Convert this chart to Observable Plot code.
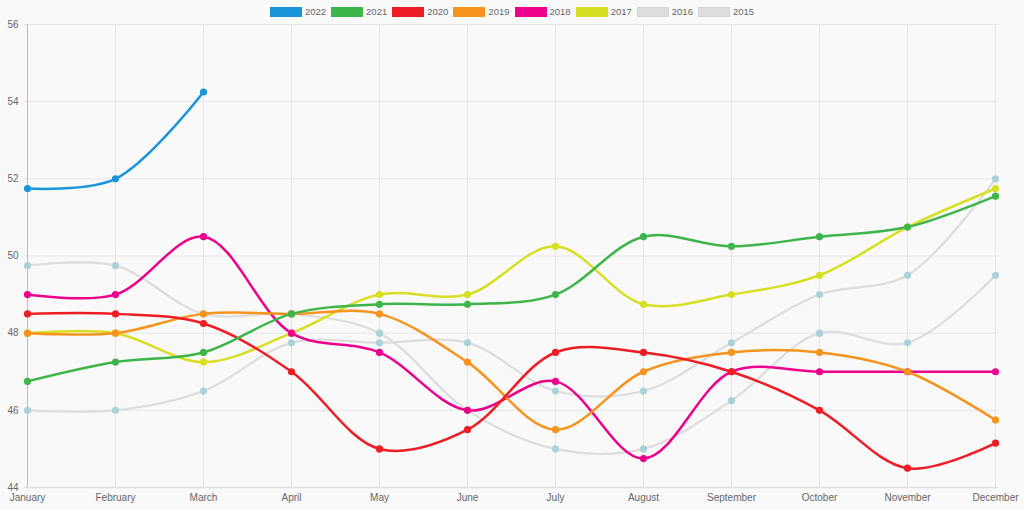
<!DOCTYPE html>
<html>
<head>
<meta charset="utf-8">
<script src="https://cdn.jsdelivr.net/npm/d3@7"></script>
<script src="https://cdn.jsdelivr.net/npm/@observablehq/plot@0.6"></script>
<style>
  html, body { margin: 0; padding: 0; background: #f9f9f9; }
  body { width: 1024px; height: 510px; overflow: hidden; font-family: "Liberation Sans", Arial, sans-serif; }
  #legend { height: 16px; display: flex; justify-content: center; align-items: center; padding-top: 7px; box-sizing: border-box; }
  .item { display: flex; align-items: center; margin: 0 2.5px; font-size: 9.5px; color: #666; }
  .box { width: 32px; height: 10px; margin-right: 3px; box-sizing: border-box; border: 1px solid; }
  #chart svg { display: block; }
</style>
</head>
<body>
<div id="legend"></div>
<div id="chart"></div>
<script>
const months = ["January","February","March","April","May","June","July","August","September","October","November","December"];
const seriesNames = ["2022","2021","2020","2019","2018","2017","2016","2015"];
const seriesColors = ["#1a96d8","#3db54a","#ee1c24","#f7941d","#ec008c","#d7df23","#dddddd","#dddddd"];
const pointColors = ["#1a96d8","#3db54a","#ee1c24","#f7941d","#ec008c","#d7df23","#a9d3d9","#a9d3d9"];
const v2022 = [51.75, 52, 54.25];
const v2021 = [46.75, 47.25, 47.5, 48.5, 48.75, 48.75, 49, 50.5, 50.25, 50.5, 50.75, 51.55];
const v2020 = [48.5, 48.5, 48.25, 47, 45, 45.5, 47.5, 47.5, 47, 46, 44.5, 45.15];
const v2019 = [48, 48, 48.5, 48.5, 48.5, 47.25, 45.5, 47, 47.5, 47.5, 47, 45.75];
const v2018 = [49, 49, 50.5, 48, 47.5, 46, 46.75, 44.75, 47, 47, 47, 47];
const v2017 = [48, 48, 47.25, 48, 49, 49, 50.25, 48.75, 49, 49.5, 50.75, 51.75];
const v2016 = [49.75, 49.75, 48.5, 48.5, 48, 46, 45, 45, 46.25, 48, 47.75, 49.5];
const v2015 = [46, 46, 46.5, 47.75, 47.75, 47.75, 46.5, 46.5, 47.75, 49, 49.5, 52];
const yTicks = [44, 46, 48, 50, 52, 54, 56];

const allValues = [v2022, v2021, v2020, v2019, v2018, v2017, v2016, v2015];

// legend
const legend = document.getElementById("legend");
seriesNames.forEach((name, i) => {
  const it = document.createElement("div");
  it.className = "item";
  const b = document.createElement("div");
  b.className = "box";
  b.style.background = seriesColors[i];
  b.style.borderColor = i >= 6 ? "#d4d4d4" : seriesColors[i];
  const t = document.createElement("span");
  t.textContent = name;
  it.appendChild(b); it.appendChild(t);
  legend.appendChild(it);
});

const rows = [];
allValues.forEach((vals, si) => {
  vals.forEach((v, mi) => rows.push({series: seriesNames[si], si, month: months[mi], value: v}));
});

const marks = [
  Plot.gridX(months, {stroke: "#e6e6e6", strokeOpacity: 1}),
  Plot.gridY(yTicks.slice(1), {stroke: "#e6e6e6", strokeOpacity: 1}),
  Plot.ruleY([44], {stroke: "#e0e0e0", strokeWidth: 1.5}),
  Plot.ruleX([months[0]], {stroke: "#bdbdbd"}),
];
// draw in reverse so 2022 is on top
for (let si = seriesNames.length - 1; si >= 0; si--) {
  const d = rows.filter(r => r.si === si);
  const gray = si >= 6;
  marks.push(Plot.line(d, {x: "month", y: "value", stroke: seriesColors[si], strokeWidth: gray ? 2.2 : 2.5, curve: "catmull-rom"}));
}
for (let si = seriesNames.length - 1; si >= 0; si--) {
  const d = rows.filter(r => r.si === si);
  marks.push(Plot.dot(d, {x: "month", y: "value", fill: pointColors[si], r: 3.6}));
}

const chart = Plot.plot({
  width: 1024,
  height: 494,
  marginTop: 8,
  marginBottom: 23,
  marginLeft: 24,
  marginRight: 26,
  style: {background: "#f9f9f9", fontFamily: "Liberation Sans, Arial, sans-serif", fontSize: "10px", color: "#666"},
  x: {type: "point", domain: months, padding: 0, label: null, tickSize: 0, tickPadding: 6},
  y: {domain: [44, 56], ticks: yTicks, label: null, tickSize: 0, tickPadding: 6, tickFormat: d => d},
  marks
});
document.getElementById("chart").appendChild(chart);
</script>
</body>
</html>
